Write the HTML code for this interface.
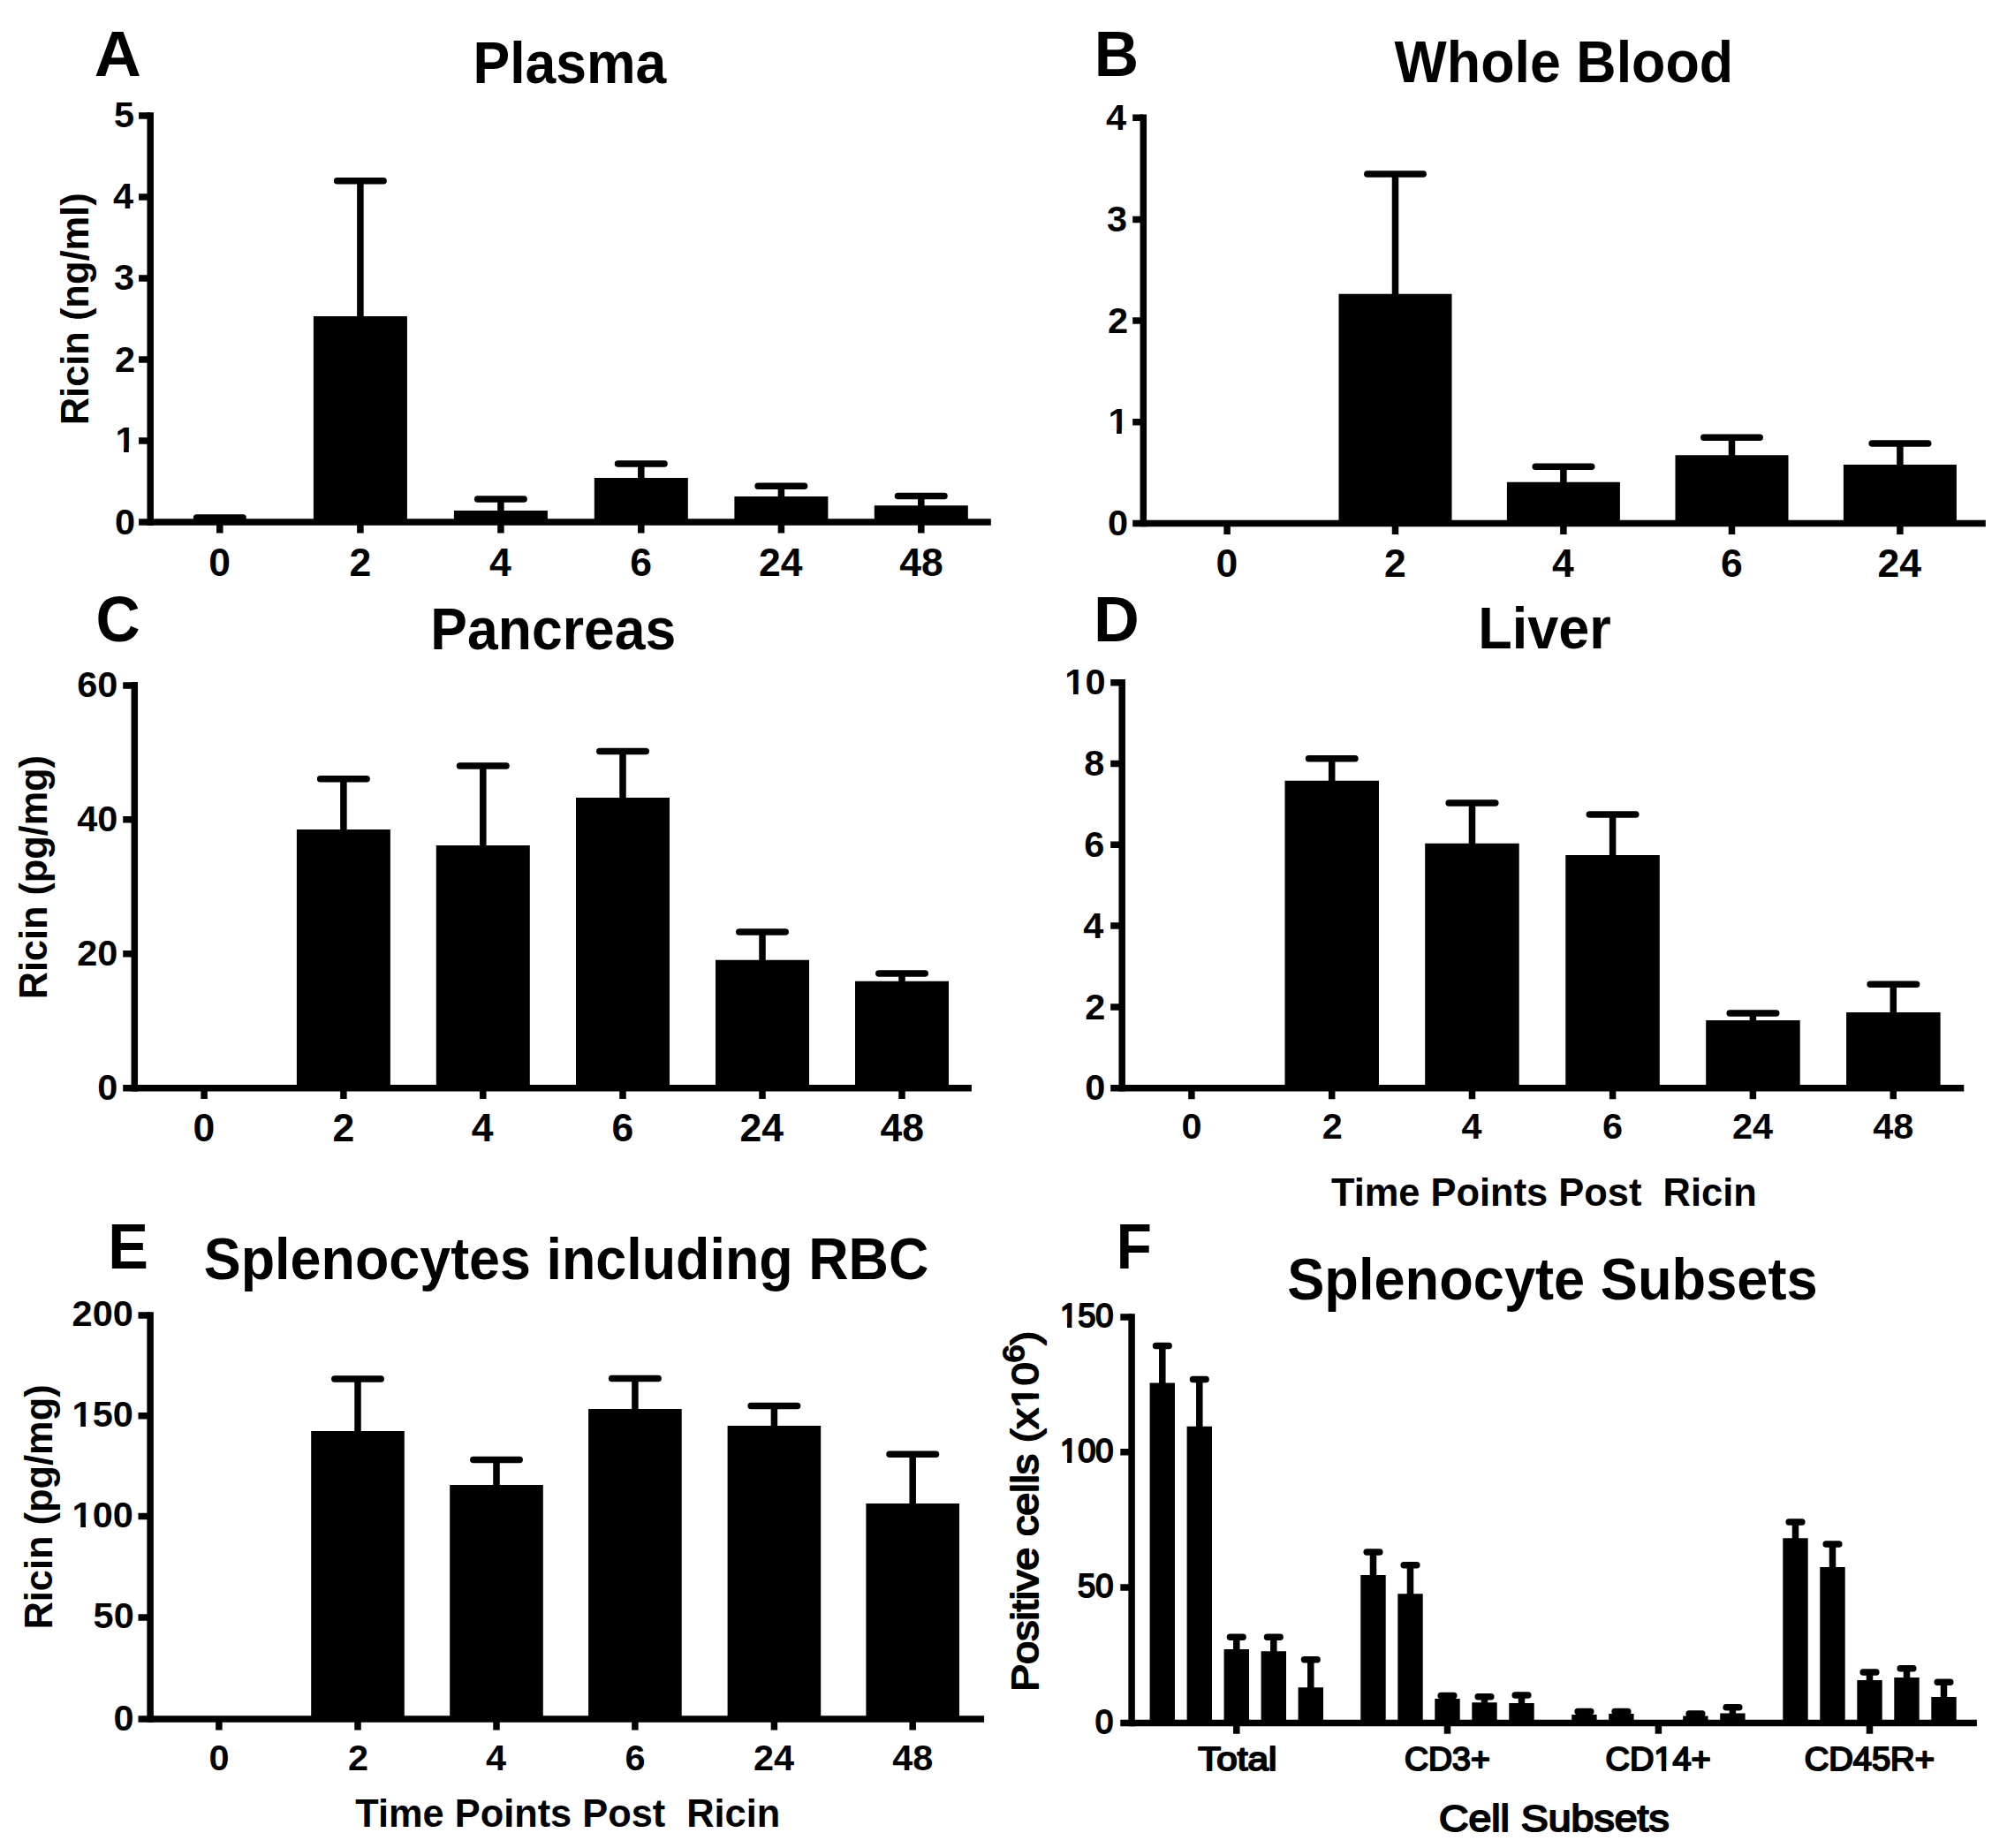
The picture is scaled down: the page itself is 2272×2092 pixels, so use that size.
<!DOCTYPE html>
<html lang="en"><head><meta charset="utf-8"><title>Ricin distribution figure</title>
<style>html,body{margin:0;padding:0;background:#fff;overflow:hidden}svg{display:block}text{font-family:'Liberation Sans', sans-serif;font-weight:bold;fill:#000}.l{font-weight:normal;stroke:#000;stroke-width:2.0px;stroke-linejoin:round}</style></head>
<body>
<svg width="2272" height="2092" viewBox="0 0 2272 2092">
<rect width="2272" height="2092" fill="#fff"/>
<g id="panelA" stroke="#000" stroke-width="7.5" fill="none">
<path d="M170.2 127.2V594.9"/>
<path d="M157.1 591.1H1121.8"/>
<path d="M157.1 131.0H170.2M157.1 223.0H170.2M157.1 314.9H170.2M157.1 407.1H170.2M157.1 498.9H170.2"/>
<path d="M248.8 591.1V603.5M407.9 591.1V603.5M566.9 591.1V603.5M725.8 591.1V603.5M884.4 591.1V603.5M1042.8 591.1V603.5"/>
</g>
<g id="barsA">
<path d="M354.9 358.1h106.0V591.1h-106.0zM513.9 577.9h106.0V591.1h-106.0zM672.8 540.9h106.0V591.1h-106.0zM831.4 562.0h106.0V591.1h-106.0zM989.8 572.2h106.0V591.1h-106.0z" fill="#000"/>
<path d="M407.9 359.1V204.7M566.9 578.9V565.0M725.8 541.9V525.0M884.4 563.0V550.2M1042.8 573.2V561.5" stroke="#000" stroke-width="7.5" fill="none"/>
<path d="M222.6 586.0H275.1M381.6 204.7H434.1M540.6 565.0H593.1M699.5 525.0H752.0M858.1 550.2H910.6M1016.5 561.5H1069.0" stroke="#000" stroke-width="7.5" stroke-linecap="round" fill="none"/>
</g>
<g id="panelB" stroke="#000" stroke-width="7.5" fill="none">
<path d="M1294.3 129.6V596.2"/>
<path d="M1282.2 592.5H2247.8"/>
<path d="M1282.2 133.3H1294.3M1282.2 248.5H1294.3M1282.2 363.1H1294.3M1282.2 477.8H1294.3"/>
<path d="M1389.1 592.5V604.9M1579.5 592.5V604.9M1769.9 592.5V604.9M1960.5 592.5V604.9M2150.9 592.5V604.9"/>
</g>
<g id="barsB">
<path d="M1515.5 332.7h128.0V592.5h-128.0zM1705.9 545.8h128.0V592.5h-128.0zM1896.5 515.3h128.0V592.5h-128.0zM2086.9 526.0h128.0V592.5h-128.0z" fill="#000"/>
<path d="M1579.5 333.7V196.9M1769.9 546.8V528.3M1960.5 516.3V495.3M2150.9 527.0V502.0" stroke="#000" stroke-width="7.5" fill="none"/>
<path d="M1547.8 196.9H1611.2M1738.2 528.3H1801.7M1928.8 495.3H1992.2M2119.2 502.0H2182.7" stroke="#000" stroke-width="7.5" stroke-linecap="round" fill="none"/>
</g>
<g id="panelC" stroke="#000" stroke-width="7.5" fill="none">
<path d="M152.3 772.1V1235.5"/>
<path d="M139.2 1231.7H1099.9"/>
<path d="M139.2 775.9H152.3M139.2 927.8H152.3M139.2 1079.8H152.3"/>
<path d="M231.1 1231.7V1244.1M388.9 1231.7V1244.1M546.8 1231.7V1244.1M705.0 1231.7V1244.1M863.0 1231.7V1244.1M1021.0 1231.7V1244.1"/>
</g>
<g id="barsC">
<path d="M335.9 939.0h106.0V1231.7h-106.0zM493.8 956.9h106.0V1231.7h-106.0zM652.0 903.0h106.0V1231.7h-106.0zM810.0 1086.8h106.0V1231.7h-106.0zM968.0 1110.8h106.0V1231.7h-106.0z" fill="#000"/>
<path d="M388.9 940.0V881.7M546.8 957.9V867.1M705.0 904.0V850.5M863.0 1087.8V1054.9M1021.0 1111.8V1102.0" stroke="#000" stroke-width="7.5" fill="none"/>
<path d="M362.6 881.7H415.1M520.5 867.1H573.0M678.8 850.5H731.2M836.8 1054.9H889.2M994.8 1102.0H1047.2" stroke="#000" stroke-width="7.5" stroke-linecap="round" fill="none"/>
</g>
<g id="panelD" stroke="#000" stroke-width="7.5" fill="none">
<path d="M1270.2 769.0V1235.5"/>
<path d="M1257.2 1231.8H2223.3"/>
<path d="M1257.2 772.7H1270.2M1257.2 864.5H1270.2M1257.2 956.2H1270.2M1257.2 1048.0H1270.2M1257.2 1139.9H1270.2"/>
<path d="M1348.9 1231.8V1244.2M1507.7 1231.8V1244.2M1666.5 1231.8V1244.2M1825.6 1231.8V1244.2M1984.4 1231.8V1244.2M2143.3 1231.8V1244.2"/>
</g>
<g id="barsD">
<path d="M1454.5 883.7h106.5V1231.8h-106.5zM1613.2 954.8h106.5V1231.8h-106.5zM1772.3 967.9h106.5V1231.8h-106.5zM1931.2 1155.1h106.5V1231.8h-106.5zM2090.1 1146.0h106.5V1231.8h-106.5z" fill="#000"/>
<path d="M1507.7 884.7V858.8M1666.5 955.8V909.1M1825.6 968.9V921.9M1984.4 1156.1V1147.0M2143.3 1147.0V1114.2" stroke="#000" stroke-width="7.5" fill="none"/>
<path d="M1481.5 858.8H1534.0M1640.2 909.1H1692.8M1799.3 921.9H1851.8M1958.2 1147.0H2010.7M2117.1 1114.2H2169.6" stroke="#000" stroke-width="7.5" stroke-linecap="round" fill="none"/>
</g>
<g id="panelE" stroke="#000" stroke-width="7.5" fill="none">
<path d="M170.1 1485.2V1949.8"/>
<path d="M156.5 1946.1H1114.1"/>
<path d="M156.5 1489.0H170.1M156.5 1602.8H170.1M156.5 1716.6H170.1M156.5 1830.9H170.1"/>
<path d="M247.9 1946.1V1958.5M405.0 1946.1V1958.5M562.0 1946.1V1958.5M718.9 1946.1V1958.5M876.4 1946.1V1958.5M1033.2 1946.1V1958.5"/>
</g>
<g id="barsE">
<path d="M352.2 1619.9h105.6V1946.1h-105.6zM509.2 1681.1h105.6V1946.1h-105.6zM666.1 1594.9h105.6V1946.1h-105.6zM823.6 1614.1h105.6V1946.1h-105.6zM980.4 1702.0h105.6V1946.1h-105.6z" fill="#000"/>
<path d="M405.0 1620.9V1561.1M562.0 1682.1V1652.5M718.9 1595.9V1560.5M876.4 1615.1V1591.5M1033.2 1703.0V1646.2" stroke="#000" stroke-width="7.5" fill="none"/>
<path d="M378.8 1561.1H431.2M535.8 1652.5H588.2M692.6 1560.5H745.1M850.1 1591.5H902.6M1007.0 1646.2H1059.5" stroke="#000" stroke-width="7.5" stroke-linecap="round" fill="none"/>
</g>
<g id="panelF" stroke="#000" stroke-width="7.5" fill="none">
<path d="M1281.1 1487.2V1954.2"/>
<path d="M1268.3 1950.4H2237.9"/>
<path d="M1268.3 1491.0H1281.1M1268.3 1643.8H1281.1M1268.3 1797.0H1281.1"/>
<path d="M1399.8 1950.4V1962.8M1638.5 1950.4V1962.8M1877.4 1950.4V1962.8M2116.5 1950.4V1962.8"/>
</g>
<g id="barsF">
<path d="M1301.6 1565.6h28.4V1950.4h-28.4zM1343.6 1614.7h28.4V1950.4h-28.4zM1385.6 1867.0h28.4V1950.4h-28.4zM1427.6 1869.3h28.4V1950.4h-28.4zM1469.6 1910.2h28.4V1950.4h-28.4zM1540.3 1782.9h28.4V1950.4h-28.4zM1582.3 1804.2h28.4V1950.4h-28.4zM1624.3 1923.0h28.4V1950.4h-28.4zM1666.3 1927.2h28.4V1950.4h-28.4zM1708.3 1928.1h28.4V1950.4h-28.4zM1779.2 1940.9h28.4V1950.4h-28.4zM1821.2 1940.0h28.4V1950.4h-28.4zM1905.2 1942.5h28.4V1950.4h-28.4zM1947.2 1939.4h28.4V1950.4h-28.4zM2018.3 1741.2h28.4V1950.4h-28.4zM2060.3 1774.1h28.4V1950.4h-28.4zM2102.3 1901.9h28.4V1950.4h-28.4zM2144.3 1899.1h28.4V1950.4h-28.4zM2186.3 1921.1h28.4V1950.4h-28.4z" fill="#000"/>
<path d="M1315.8 1566.6V1523.5M1357.8 1615.7V1561.6M1399.8 1868.0V1853.2M1441.8 1870.3V1853.2M1483.8 1911.2V1878.8M1554.5 1783.9V1757.0M1596.5 1805.2V1771.7M1638.5 1924.0V1919.4M1680.5 1928.2V1920.8M1722.5 1929.1V1919.0M1793.4 1941.9V1937.6M1835.4 1941.0V1937.5M1919.4 1943.5V1940.0M1961.4 1940.4V1932.8M2032.5 1742.2V1723.0M2074.5 1775.1V1748.0M2116.5 1902.9V1892.9M2158.5 1900.1V1888.8M2200.5 1922.1V1904.2" stroke="#000" stroke-width="7.5" fill="none"/>
<path d="M1308.5 1523.5H1323.1M1350.5 1561.6H1365.1M1392.5 1853.2H1407.1M1434.5 1853.2H1449.1M1476.5 1878.8H1491.1M1547.2 1757.0H1561.8M1589.2 1771.7H1603.8M1631.2 1919.4H1645.8M1673.2 1920.8H1687.8M1715.2 1919.0H1729.8M1786.1 1937.6H1800.8M1828.1 1937.5H1842.8M1912.1 1940.0H1926.8M1954.1 1932.8H1968.8M2025.2 1723.0H2039.8M2067.2 1748.0H2081.8M2109.2 1892.9H2123.8M2151.2 1888.8H2165.8M2193.2 1904.2H2207.8" stroke="#000" stroke-width="7.5" stroke-linecap="round" fill="none"/>
</g>
<g id="labels">
<text x="106.77" y="86.00" font-size="72.3" textLength="53.09" lengthAdjust="spacingAndGlyphs" xml:space="preserve">A</text>
<text x="1238.78" y="86.00" font-size="72.3" textLength="50.32" lengthAdjust="spacingAndGlyphs" xml:space="preserve">B</text>
<text x="108.52" y="726.00" font-size="72.3" textLength="50.11" lengthAdjust="spacingAndGlyphs" xml:space="preserve">C</text>
<text x="1238.05" y="726.00" font-size="72.3" textLength="51.74" lengthAdjust="spacingAndGlyphs" xml:space="preserve">D</text>
<text x="122.26" y="1436.00" font-size="72.3" textLength="45.70" lengthAdjust="spacingAndGlyphs" xml:space="preserve">E</text>
<text x="1263.76" y="1436.00" font-size="72.3" textLength="40.11" lengthAdjust="spacingAndGlyphs" xml:space="preserve">F</text>
<text x="535.45" y="94.00" font-size="66.6" textLength="218.95" lengthAdjust="spacingAndGlyphs" xml:space="preserve">Plasma</text>
<text x="1578.60" y="92.70" font-size="66.6" textLength="383.57" lengthAdjust="spacingAndGlyphs" xml:space="preserve">Whole Blood</text>
<text x="487.35" y="735.00" font-size="66.6" textLength="277.82" lengthAdjust="spacingAndGlyphs" xml:space="preserve">Pancreas</text>
<text x="1673.22" y="734.00" font-size="66.6" textLength="150.59" lengthAdjust="spacingAndGlyphs" xml:space="preserve">Liver</text>
<text x="230.81" y="1448.30" font-size="66.6" textLength="820.48" lengthAdjust="spacingAndGlyphs" xml:space="preserve">Splenocytes including RBC</text>
<text x="1457.20" y="1471.00" font-size="66.6" textLength="600.40" lengthAdjust="spacingAndGlyphs" xml:space="preserve">Splenocyte Subsets</text>
<text x="1506.90" y="1365.00" font-size="45.2" textLength="481.85" lengthAdjust="spacingAndGlyphs" xml:space="preserve">Time Points Post  Ricin</text>
<text x="402.30" y="2067.90" font-size="45.2" textLength="480.95" lengthAdjust="spacingAndGlyphs" xml:space="preserve">Time Points Post  Ricin</text>
<text class="l" x="1628.90" y="2072.60" font-size="42.2" textLength="260.73" lengthAdjust="spacingAndGlyphs" xml:space="preserve">Cell Subsets</text>
<text transform="translate(99.80 481.29) rotate(-90)" font-size="45" textLength="262.89" lengthAdjust="spacingAndGlyphs" xml:space="preserve">Ricin (ng/ml)</text>
<text transform="translate(53.30 1131.28) rotate(-90)" font-size="45" textLength="276.15" lengthAdjust="spacingAndGlyphs" xml:space="preserve">Ricin (pg/mg)</text>
<text transform="translate(58.50 1844.59) rotate(-90)" font-size="45" textLength="277.17" lengthAdjust="spacingAndGlyphs" xml:space="preserve">Ricin (pg/mg)</text>
<text class="l" transform="translate(1174.90 1914.70) rotate(-90)" font-size="42.2" textLength="407.77" lengthAdjust="spacingAndGlyphs" xml:space="preserve">Positive cells (x10<tspan dy="-15.8" font-size="32.7">6</tspan><tspan dy="15.8">)</tspan></text>
<text class="l" x="1356.30" y="2003.90" font-size="36.2" textLength="88.99" lengthAdjust="spacingAndGlyphs" xml:space="preserve">Total</text>
<text class="l" x="1590.07" y="2003.90" font-size="36.2" textLength="96.68" lengthAdjust="spacingAndGlyphs" xml:space="preserve">CD3+</text>
<text class="l" x="1817.55" y="2003.90" font-size="36.2" textLength="119.14" lengthAdjust="spacingAndGlyphs" xml:space="preserve">CD14+</text>
<text class="l" x="2042.65" y="2003.90" font-size="36.2" textLength="147.29" lengthAdjust="spacingAndGlyphs" xml:space="preserve">CD45R+</text>
<text x="128.90" y="144.40" font-size="41.5">5</text>
<text x="127.90" y="236.40" font-size="41.5">4</text>
<text x="128.90" y="328.30" font-size="41.5">3</text>
<text x="129.90" y="420.50" font-size="41.5">2</text>
<text x="130.40" y="512.30" font-size="41.5">1</text>
<text x="129.90" y="604.50" font-size="41.5">0</text>
<text x="236.30" y="651.60" font-size="44.5">0</text>
<text x="395.40" y="651.60" font-size="44.5">2</text>
<text x="553.90" y="651.60" font-size="44.5">4</text>
<text x="713.30" y="651.60" font-size="44.5">6</text>
<text x="858.90" y="651.60" font-size="44.5">24</text>
<text x="1018.30" y="651.60" font-size="44.5">48</text>
<text x="1251.90" y="146.90" font-size="41.5">4</text>
<text x="1252.90" y="262.10" font-size="41.5">3</text>
<text x="1253.90" y="376.70" font-size="41.5">2</text>
<text x="1254.40" y="491.40" font-size="41.5">1</text>
<text x="1253.90" y="606.10" font-size="41.5">0</text>
<text x="1376.60" y="653.40" font-size="44.5">0</text>
<text x="1567.00" y="653.40" font-size="44.5">2</text>
<text x="1756.90" y="653.40" font-size="44.5">4</text>
<text x="1948.00" y="653.40" font-size="44.5">6</text>
<text x="2125.40" y="653.40" font-size="44.5">24</text>
<text x="87.20" y="789.10" font-size="41.5">60</text>
<text x="87.20" y="941.00" font-size="41.5">40</text>
<text x="87.20" y="1093.00" font-size="41.5">20</text>
<text x="110.20" y="1244.90" font-size="41.5">0</text>
<text x="218.60" y="1291.70" font-size="44.5">0</text>
<text x="376.40" y="1291.70" font-size="44.5">2</text>
<text x="533.80" y="1291.70" font-size="44.5">4</text>
<text x="692.50" y="1291.70" font-size="44.5">6</text>
<text x="837.50" y="1291.70" font-size="44.5">24</text>
<text x="996.50" y="1291.70" font-size="44.5">48</text>
<text x="1205.30" y="786.30" font-size="41.5">10</text>
<text x="1227.30" y="878.10" font-size="41.5">8</text>
<text x="1227.30" y="969.80" font-size="41.5">6</text>
<text x="1226.30" y="1061.60" font-size="41.5">4</text>
<text x="1228.30" y="1153.50" font-size="41.5">2</text>
<text x="1228.30" y="1245.40" font-size="41.5">0</text>
<text x="1337.40" y="1289.10" font-size="41.4">0</text>
<text x="1496.70" y="1289.10" font-size="41.4">2</text>
<text x="1654.50" y="1289.10" font-size="41.4">4</text>
<text x="1814.10" y="1289.10" font-size="41.4">6</text>
<text x="1960.90" y="1289.10" font-size="41.4">24</text>
<text x="2120.30" y="1289.10" font-size="41.4">48</text>
<text x="81.60" y="1501.40" font-size="41.5">200</text>
<text x="81.60" y="1615.20" font-size="41.5">150</text>
<text x="81.60" y="1729.00" font-size="41.5">100</text>
<text x="105.60" y="1843.30" font-size="41.5">50</text>
<text x="128.60" y="1958.50" font-size="41.5">0</text>
<text x="236.40" y="2003.80" font-size="41.4">0</text>
<text x="394.00" y="2003.80" font-size="41.4">2</text>
<text x="550.00" y="2003.80" font-size="41.4">4</text>
<text x="707.40" y="2003.80" font-size="41.4">6</text>
<text x="852.90" y="2003.80" font-size="41.4">24</text>
<text x="1010.20" y="2003.80" font-size="41.4">48</text>
<text class="l" x="1200.00" y="1502.20" font-size="36.2">150</text>
<text class="l" x="1200.00" y="1655.00" font-size="36.2">100</text>
<text class="l" x="1220.00" y="1808.20" font-size="36.2">50</text>
<text class="l" x="1240.00" y="1961.60" font-size="36.2">0</text>
</g>
<g id="glyph-trim" fill="#fff">
<path transform="translate(1174.90 1914.70) rotate(-90)" d="M322.01 -5.17h9.15v7.17h-9.15zM337.30 -5.17h8.78v7.17h-8.78z"/>
<path d="M1873.22 1999.19h7.65v6.71h-7.65zM1886.25 1999.19h7.34v6.71h-7.34z"/>
<path d="M132.02 507.07h8.06v6.23h-8.06zM145.81 507.07h7.52v6.23h-7.52z"/>
<path d="M1256.02 486.17h8.06v6.23h-8.06zM1269.81 486.17h7.52v6.23h-7.52z"/>
<path d="M1206.92 781.07h8.06v6.23h-8.06zM1220.71 781.07h7.52v6.23h-7.52z"/>
<path d="M83.22 1609.97h8.06v6.23h-8.06zM97.01 1609.97h7.52v6.23h-7.52z"/>
<path d="M83.22 1723.77h8.06v6.23h-8.06zM97.01 1723.77h7.52v6.23h-7.52z"/>
<path d="M1200.75 1497.48h7.34v6.71h-7.34zM1213.32 1497.48h7.05v6.71h-7.05z"/>
<path d="M1200.75 1650.29h7.34v6.71h-7.34zM1213.32 1650.29h7.05v6.71h-7.05z"/>
</g>
</svg>
</body></html>
